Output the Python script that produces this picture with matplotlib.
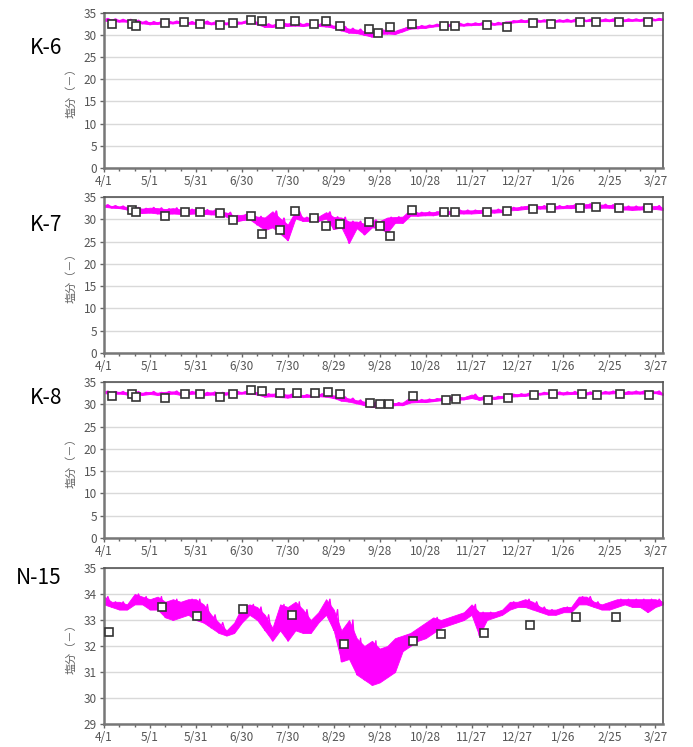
import numpy as np
import matplotlib
matplotlib.use("Agg")
import matplotlib.pyplot as plt

plt.rcParams['font.family'] = ['Noto Sans CJK JP', 'DejaVu Sans']

# days since 4/1, every 5 days
days = np.arange(0, 366, 5)
tick_days = [0, 30, 60, 90, 120, 150, 180, 210, 240, 270, 300, 330, 360]
tick_labels = ["4/1", "5/1", "5/31", "6/30", "7/30", "8/29", "9/28",
               "10/28", "11/27", "12/27", "1/26", "2/25", "3/27"]

# continuous record: low / high envelope every 5 days
k6_lo = [33.2, 33.1, 33.0, 33.0, 32.8, 32.6, 32.4, 32.5, 32.6, 32.6, 32.7, 32.5, 32.5, 32.6, 32.4, 32.4,
         32.4, 32.4, 32.6, 32.9, 32.4, 31.8, 31.8, 32.0, 32.0, 32.1, 32.0, 32.2, 32.0, 31.9, 31.6, 31.0,
         30.5, 30.4, 30.0, 29.6, 30.2, 30.3, 30.2, 30.8, 31.4, 31.5, 31.6, 31.9, 32.0, 32.0, 32.1, 32.1,
         32.2, 32.3, 32.3, 32.3, 32.4, 32.7, 32.9, 32.9, 32.9, 33.0, 33.0, 33.0, 33.0, 33.0, 33.1, 33.1,
         33.1, 33.1, 33.1, 33.2, 33.1, 33.2, 33.2, 33.2, 33.3, 33.4]
k6_hi = [33.6, 33.5, 33.4, 33.4, 33.2, 33.0, 32.9, 32.9, 33.0, 33.0, 33.1, 32.9, 32.9, 33.0, 32.8, 32.8,
         32.8, 32.8, 33.0, 33.4, 32.9, 32.4, 32.3, 32.6, 32.6, 32.6, 32.5, 32.6, 32.5, 32.3, 32.1, 31.8,
         31.4, 31.2, 30.8, 30.6, 31.0, 31.0, 30.9, 31.5, 32.0, 32.0, 32.1, 32.3, 32.4, 32.4, 32.5, 32.5,
         32.6, 32.7, 32.7, 32.7, 32.8, 33.1, 33.3, 33.3, 33.3, 33.3, 33.3, 33.3, 33.4, 33.4, 33.4, 33.4,
         33.5, 33.5, 33.5, 33.5, 33.5, 33.5, 33.5, 33.6, 33.6, 33.7]

k7_lo = [32.8, 32.6, 32.5, 32.2, 31.6, 31.4, 31.5, 31.3, 31.2, 31.3, 31.2, 31.2, 31.3, 31.2, 31.1, 31.0,
         30.6, 29.4, 29.8, 30.0, 28.8, 27.6, 28.2, 26.8, 25.3, 30.2, 29.6, 29.6, 29.6, 30.2, 27.8, 28.2,
         24.7, 28.0, 26.6, 28.2, 28.0, 27.0, 29.2, 29.2, 30.8, 30.8, 30.9, 30.9, 31.2, 31.2, 31.3, 31.3,
         31.3, 31.4, 31.5, 31.5, 31.6, 32.0, 32.1, 32.3, 32.4, 32.4, 32.4, 32.4, 32.5, 32.5, 32.6, 32.6,
         32.6, 32.6, 32.6, 32.4, 32.2, 32.1, 32.2, 32.2, 32.3, 32.1]
k7_hi = [33.2, 33.0, 32.9, 32.8, 32.6, 32.4, 32.6, 32.5, 32.3, 32.5, 32.2, 32.2, 32.3, 32.1, 32.0, 31.8,
         31.5, 30.8, 31.0, 31.2, 30.6, 30.4, 31.8, 30.2, 28.8, 31.8, 30.4, 30.4, 30.6, 31.6, 30.5, 30.4,
         29.5, 29.5, 29.0, 29.8, 29.6, 30.4, 30.5, 30.6, 32.2, 31.5, 31.6, 31.6, 31.9, 31.9, 32.0, 32.0,
         32.0, 32.1, 32.1, 32.2, 32.2, 32.6, 32.7, 33.0, 33.0, 33.0, 33.0, 33.0, 33.0, 33.2, 33.3, 33.4,
         33.3, 33.3, 33.2, 33.0, 32.9, 32.9, 32.9, 32.8, 33.0, 32.6]

k8_lo = [32.5, 32.3, 32.4, 32.2, 32.3, 32.1, 32.3, 32.1, 32.2, 32.4, 32.1, 32.3, 32.4, 32.0, 32.2, 32.0,
         32.2, 32.3, 32.4, 32.4, 32.2, 31.7, 31.8, 31.6, 31.5, 31.7, 31.6, 31.7, 31.8, 31.7, 31.4, 30.8,
         30.6, 30.2, 29.8, 29.4, 29.4, 29.6, 29.8, 29.8, 30.4, 30.5, 30.5, 30.7, 30.9, 31.0, 31.0, 31.1,
         31.4, 31.0, 31.2, 31.2, 31.4, 31.7, 31.8, 31.9, 32.1, 32.2, 32.3, 32.3, 32.2, 32.3, 32.3, 32.2,
         32.4, 32.4, 32.4, 32.5, 32.3, 32.4, 32.4, 32.4, 32.5, 32.1]
k8_hi = [32.9, 32.8, 32.8, 32.7, 32.8, 32.6, 32.8, 32.6, 32.8, 32.9, 32.6, 32.8, 32.9, 32.6, 32.7, 32.6,
         32.7, 32.8, 32.8, 32.9, 32.7, 32.3, 32.4, 32.2, 32.2, 32.2, 32.1, 32.2, 32.3, 32.2, 32.0, 31.6,
         31.3, 30.9, 30.6, 30.4, 30.3, 30.4, 30.3, 30.4, 31.6, 31.0, 31.1, 31.2, 31.4, 31.6, 31.5, 31.6,
         32.2, 31.6, 31.7, 31.7, 31.9, 32.2, 32.3, 32.4, 32.5, 32.6, 32.7, 32.7, 32.7, 32.8, 32.7, 32.7,
         32.8, 32.8, 32.9, 33.0, 32.8, 32.9, 32.9, 32.9, 32.9, 32.5]

n15_lo = [33.6, 33.5, 33.4, 33.4, 33.6, 33.6, 33.4, 33.4, 33.1, 33.0, 33.1, 33.2, 33.0, 32.9, 32.7, 32.5,
          32.4, 32.5, 32.9, 33.2, 33.0, 32.6, 32.2, 32.6, 32.2, 32.6, 32.5, 32.5, 32.9, 33.2, 32.6, 31.4,
          31.5, 30.9, 30.7, 30.5, 30.6, 30.8, 31.0, 31.8, 32.0, 32.2, 32.3, 32.5, 32.7, 32.8, 32.9, 33.0,
          33.2, 32.4, 33.0, 33.1, 33.2, 33.4, 33.5, 33.5, 33.4, 33.3, 33.2, 33.2, 33.3, 33.3, 33.6, 33.6,
          33.5, 33.4, 33.4, 33.5, 33.6, 33.5, 33.5, 33.3, 33.5, 33.6]
n15_hi = [33.9, 33.7, 33.7, 33.6, 34.0, 33.9, 33.8, 33.9, 33.7, 33.8, 33.7, 33.8, 33.8, 33.6, 33.2, 32.9,
          32.6, 32.9, 33.5, 33.6, 33.5, 33.2, 32.7, 33.6, 33.5, 33.7, 33.4, 33.0, 33.3, 33.8, 33.4, 32.6,
          33.0, 32.3, 32.0, 32.2, 31.9, 32.0, 32.3, 32.4, 32.5, 32.7, 32.9, 33.1, 33.0, 33.1, 33.2, 33.3,
          33.6, 33.3, 33.3, 33.3, 33.4, 33.7, 33.7, 33.8, 33.7, 33.5, 33.4, 33.4, 33.5, 33.5, 33.9, 33.9,
          33.7, 33.6, 33.7, 33.8, 33.8, 33.8, 33.8, 33.8, 33.8, 33.7]

# spot observations (day since 4/1, value)
k6_obs_day = [5, 18, 21, 40, 52, 63, 76, 84, 96, 103, 115, 125, 137, 145, 154,
              173, 179, 187, 201, 222, 229, 250, 263, 280, 292, 311, 321, 336, 355]
k6_obs_val = [32.4, 32.5, 31.9, 32.6, 32.8, 32.5, 32.3, 32.6, 33.4, 33.1, 32.5, 33.2, 32.5, 33.1, 31.9,
              31.3, 30.4, 31.7, 32.5, 32.1, 32.0, 32.2, 31.8, 32.6, 32.5, 32.8, 33.0, 32.8, 32.9]

k7_obs_day = [18, 21, 40, 53, 63, 76, 84, 96, 103, 115, 125, 137, 145, 154,
              173, 180, 187, 201, 222, 229, 250, 263, 280, 292, 311, 321, 336, 355]
k7_obs_val = [32.0, 31.6, 30.8, 31.6, 31.6, 31.5, 29.8, 30.7, 26.8, 27.6, 31.9, 30.2, 28.4, 28.9,
              29.3, 28.5, 26.3, 32.0, 31.6, 31.6, 31.6, 31.9, 32.2, 32.5, 32.5, 32.7, 32.6, 32.5]

k8_obs_day = [5, 18, 21, 40, 53, 63, 76, 84, 96, 103, 115, 126, 138, 146, 154,
              174, 180, 186, 202, 223, 230, 251, 264, 281, 293, 312, 322, 337, 356]
k8_obs_val = [31.8, 32.2, 31.6, 31.4, 32.2, 32.2, 31.6, 32.2, 33.1, 33.0, 32.5, 32.5, 32.5, 32.8, 32.4,
              30.4, 30.0, 30.1, 31.8, 30.9, 31.1, 31.0, 31.5, 32.1, 32.4, 32.2, 32.0, 32.4, 32.1]

n15_obs_day = [3, 38, 61, 91, 123, 157, 202, 220, 248, 278, 308, 334]
n15_obs_val = [32.54, 33.51, 33.16, 33.44, 33.19, 32.08, 32.2, 32.45, 32.5, 32.8, 33.1, 33.13]

stations = ["K-6", "K-7", "K-8", "N-15"]
lows = [k6_lo, k7_lo, k8_lo, n15_lo]
highs = [k6_hi, k7_hi, k8_hi, n15_hi]
obs_days = [k6_obs_day, k7_obs_day, k8_obs_day, n15_obs_day]
obs_vals = [k6_obs_val, k7_obs_val, k8_obs_val, n15_obs_val]
line_w = [1.6, 1.4, 1.4, 1.0]

fig = plt.figure(figsize=(6.93, 7.47), dpi=100)

# axes boxes in pixels: top, bottom
boxes = [(12.7, 168), (197, 353), (382, 538), (568, 724)]
label_y = [48, 225, 398, 578]
W, H = 693, 747
left, right = 104, 663

for i in range(4):
    top, bot = boxes[i]
    ax = fig.add_axes([left / W, 1 - bot / H, (right - left) / W, (bot - top) / H])

    # band between low and high readings, with a zigzag on top for the noisy look
    ax.fill_between(days, lows[i], highs[i], color="#ff00ff", lw=0.6, edgecolor="#ff00ff", zorder=2)
    xs = np.column_stack([days, days + 2.5]).ravel()
    ys = np.column_stack([lows[i], highs[i]]).ravel()
    ax.plot(xs, ys, color="#ff00ff", lw=line_w[i], zorder=2)
    ax.plot(obs_days[i], obs_vals[i], "s", ms=5.5, mfc="white", mec="#333333", mew=1.2, zorder=3)

    ax.set_xlim(0, 365)
    if i < 3:
        ax.set_ylim(0, 35)
        ax.set_yticks(range(0, 36, 5))
    else:
        ax.set_ylim(29, 35)
        ax.set_yticks(range(29, 36))

    ax.set_xticks(tick_days)
    ax.set_xticklabels(tick_labels)
    ax.set_xticks(range(0, 366, 10), minor=True)
    ax.grid(axis="y", color="#d9d9d9", lw=1.0, zorder=0)
    ax.set_axisbelow(True)

    for side in ["top", "right"]:
        ax.spines[side].set_color("#555555")
        ax.spines[side].set_linewidth(1.2)
    for side in ["left", "bottom"]:
        ax.spines[side].set_color("#777777")
        ax.spines[side].set_linewidth(1.8)

    ax.tick_params(axis="both", which="major", labelsize=8.5, labelcolor="#555555",
                   color="#666666", length=3, width=1, direction="out", pad=2)
    ax.tick_params(axis="x", which="minor", color="#666666", length=2, width=1, direction="out")

    ax.set_ylabel("塩分（－）", fontsize=8, color="#666666")
    ax.yaxis.set_label_coords(-0.05, 0.5)

    fig.text(62 / W, 1 - label_y[i] / H, stations[i], fontsize=15, ha="right", va="center", color="black")

fig.savefig("out.png", dpi=100)
